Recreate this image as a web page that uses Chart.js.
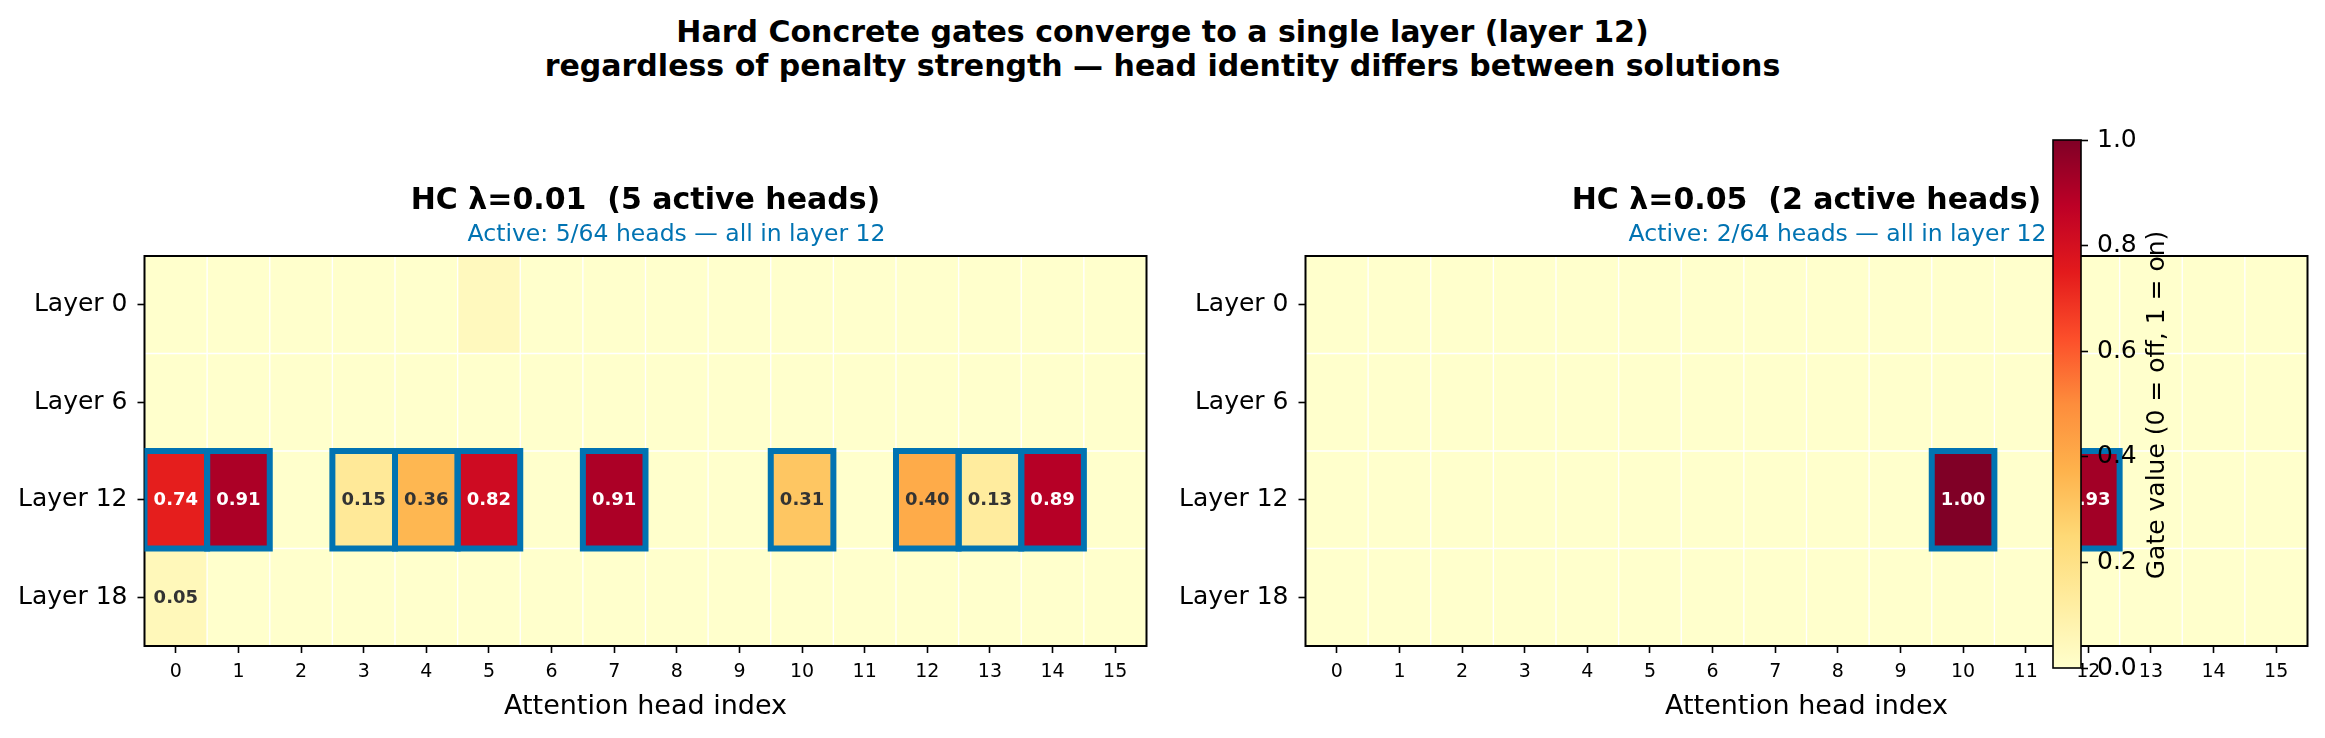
<!DOCTYPE html>
<html>
<head>
<meta charset="utf-8">
<script src="https://cdn.jsdelivr.net/npm/chart.js@4.4.1/dist/chart.umd.min.js"></script>
<style>
  body { margin: 0; background: #fff; width: 2325px; height: 738px; overflow: hidden; position: relative; }
  canvas { position: absolute; top: 0; }
  #suptitle { position: absolute; left: 0; top: 15px; width: 2325px; text-align: center; font: bold 30px/34px 'DejaVu Sans'; color: #000; }
</style>
</head>
<body>
<div id="suptitle">Hard Concrete gates converge to a single layer (layer 12)<br>regardless of penalty strength — head identity differs between solutions</div>
<canvas id="left" width="1165" height="738" style="left:0"></canvas>
<canvas id="right" width="1160" height="738" style="left:1165px"></canvas>
<canvas id="cbar" width="295" height="620" style="left:2030px; top:100px"></canvas>
<script>
// categories
const heads = ['0', '1', '2', '3', '4', '5', '6', '7', '8', '9', '10', '11', '12', '13', '14', '15'];
const layerLabels = ['Layer 0', 'Layer 6', 'Layer 12', 'Layer 18'];

// HC lambda=0.01 gate values, one array per layer
const lam001Layer0  = [0, 0, 0, 0, 0, 0.04, 0, 0, 0, 0, 0, 0, 0, 0, 0, 0];
const lam001Layer6  = [0, 0, 0, 0, 0, 0, 0, 0, 0, 0, 0, 0, 0, 0, 0, 0];
const lam001Layer12 = [0.74, 0.91, 0, 0.15, 0.36, 0.82, 0, 0.91, 0, 0, 0.31, 0, 0.40, 0.13, 0.89, 0];
const lam001Layer18 = [0.05, 0, 0, 0, 0, 0, 0, 0, 0, 0, 0, 0, 0, 0, 0, 0];

// HC lambda=0.05 gate values
const lam005Layer0  = [0, 0, 0, 0, 0, 0, 0, 0, 0, 0, 0, 0, 0, 0, 0, 0];
const lam005Layer6  = [0, 0, 0, 0, 0, 0, 0, 0, 0, 0, 0, 0, 0, 0, 0, 0];
const lam005Layer12 = [0, 0, 0, 0, 0, 0, 0, 0, 0, 0, 1.00, 0, 0.93, 0, 0, 0];
const lam005Layer18 = [0, 0, 0, 0, 0, 0, 0, 0, 0, 0, 0, 0, 0, 0, 0, 0];

// colorbar ticks
const cbarTicks = [0, 0.2, 0.4, 0.6, 0.8, 1.0];

// YlOrRd colormap
const ylOrRd = ['#ffffcc', '#ffeda0', '#fed976', '#feb24c', '#fd8d3c', '#fc4e2a', '#e31a1c', '#bd0026', '#800026'];
const BLUE = '#0173B2';

Chart.defaults.font.family = "'DejaVu Sans'";
Chart.defaults.color = '#000';

function hexRgb(h) {
    return [parseInt(h.slice(1, 3), 16), parseInt(h.slice(3, 5), 16), parseInt(h.slice(5, 7), 16)];
}

function gateColor(v) {
    const t = Math.max(0, Math.min(1, v)) * (ylOrRd.length - 1);
    const i = Math.min(Math.floor(t), ylOrRd.length - 2);
    const f = t - i;
    const a = hexRgb(ylOrRd[i]), b = hexRgb(ylOrRd[i + 1]);
    const c = a.map((x, k) => Math.round(x + (b[k] - x) * f));
    return `rgb(${c[0]},${c[1]},${c[2]})`;
}

// frame, active-head boxes, value labels and titles
const cellPlugin = {
    id: 'cells',
    afterDatasetsDraw(chart) {
        const { ctx, chartArea: a } = chart;
        ctx.save();
        ctx.strokeStyle = '#000';
        ctx.lineWidth = 2;
        ctx.strokeRect(a.left, a.top, a.right - a.left, a.bottom - a.top);

        ctx.beginPath();
        ctx.rect(a.left, a.top, a.right - a.left, a.bottom - a.top);
        ctx.clip();
        ctx.strokeStyle = BLUE;
        ctx.lineWidth = 6;
        chart.data.datasets.forEach((ds, r) => {
            const meta = chart.getDatasetMeta(r);
            ds.gate.forEach((v, i) => {
                if (v <= 0.1) return;
                const p = meta.data[i].getProps(['x', 'y', 'base', 'width'], true);
                ctx.strokeRect(p.x - p.width / 2, Math.min(p.y, p.base), p.width, Math.abs(p.base - p.y));
            });
        });
        ctx.restore();

        ctx.save();
        ctx.font = "bold 18px 'DejaVu Sans'";
        ctx.textAlign = 'center';
        ctx.textBaseline = 'middle';
        chart.data.datasets.forEach((ds, r) => {
            const meta = chart.getDatasetMeta(r);
            ds.gate.forEach((v, i) => {
                if (v < 0.05) return;
                const p = meta.data[i].getProps(['x', 'y', 'base'], true);
                ctx.fillStyle = v > 0.5 ? '#ffffff' : '#333333';
                ctx.fillText(v.toFixed(2), p.x, (p.y + p.base) / 2 + 1);
            });
        });
        ctx.restore();
    },
    afterDraw(chart, args, opts) {
        const { ctx, chartArea: a } = chart;
        const cx = (a.left + a.right) / 2;
        ctx.save();
        ctx.textAlign = 'center';
        ctx.textBaseline = 'alphabetic';
        ctx.fillStyle = '#000';
        ctx.font = "bold 30px 'DejaVu Sans'";
        ctx.fillText(opts.title, cx, 209);
        ctx.fillStyle = BLUE;
        ctx.font = "23.5px 'DejaVu Sans'";
        ctx.fillText(opts.subtitle, cx + 31, 241);
        ctx.restore();
    }
};

function heatmap(id, rows, title, subtitle, axisWidth, padRight) {
    return new Chart(document.getElementById(id), {
        type: 'bar',
        data: {
            labels: heads,
            datasets: rows.map((vals, r) => ({
                data: vals.map(() => [r - 0.5, r + 0.5]),
                gate: vals,
                backgroundColor: vals.map(gateColor),
                borderColor: '#ffffff',
                borderWidth: 1,
                borderSkipped: false,
                grouped: false,
                barPercentage: 1,
                categoryPercentage: 1
            }))
        },
        options: {
            responsive: false,
            animation: false,
            layout: { padding: { left: 0, right: padRight, top: 256, bottom: 0 } },
            plugins: {
                legend: { display: false },
                tooltip: { enabled: false },
                cells: { title: title, subtitle: subtitle }
            },
            scales: {
                x: {
                    type: 'category',
                    offset: true,
                    grid: { display: true, drawOnChartArea: false, offset: false, tickLength: 7, tickWidth: 1.6, tickColor: '#000' },
                    border: { display: false },
                    ticks: { font: { size: 19 }, color: '#000', padding: 8, maxRotation: 0, autoSkip: false },
                    title: { display: true, text: 'Attention head index', font: { size: 27 }, color: '#000', padding: { top: 0, bottom: 15 } },
                    afterFit: s => { s.height = 92; }
                },
                y: {
                    type: 'linear',
                    reverse: true,
                    min: -0.5,
                    max: 3.5,
                    afterBuildTicks: s => { s.ticks = layerLabels.map((_, i) => ({ value: i })); },
                    grid: { display: true, drawOnChartArea: false, tickLength: 7, tickWidth: 1.6, tickColor: '#000' },
                    border: { display: false },
                    ticks: { font: { size: 25 }, color: '#000', padding: 10, callback: v => layerLabels[v] },
                    afterFit: s => { s.width = axisWidth; }
                }
            }
        },
        plugins: [cellPlugin]
    });
}

heatmap('left', [lam001Layer0, lam001Layer6, lam001Layer12, lam001Layer18],
    'HC λ=0.01  (5 active heads)', 'Active: 5/64 heads — all in layer 12', 144.5, 18.5);
heatmap('right', [lam005Layer0, lam005Layer6, lam005Layer12, lam005Layer18],
    'HC λ=0.05  (2 active heads)', 'Active: 2/64 heads — all in layer 12', 140.5, 17.5);

// colorbar
const cbarPlugin = {
    id: 'cbarFrame',
    afterDraw(chart) {
        const { ctx, chartArea: a } = chart;
        ctx.save();
        ctx.strokeStyle = '#000';
        ctx.lineWidth = 1.6;
        ctx.strokeRect(a.left, a.top, a.right - a.left, a.bottom - a.top);
        ctx.translate(127, 305);
        ctx.rotate(-Math.PI / 2);
        ctx.font = "25px 'DejaVu Sans'";
        ctx.fillStyle = '#000';
        ctx.textAlign = 'center';
        ctx.textBaseline = 'middle';
        ctx.fillText('Gate value (0 = off, 1 = on)', 0, 0);
        ctx.restore();
    }
};

new Chart(document.getElementById('cbar'), {
    type: 'bar',
    data: {
        labels: ['gate'],
        datasets: [{
            data: [[cbarTicks[0], cbarTicks[cbarTicks.length - 1]]],
            backgroundColor: c => {
                const a = c.chart.chartArea;
                if (!a) return ylOrRd[0];
                const g = c.chart.ctx.createLinearGradient(0, a.bottom, 0, a.top);
                ylOrRd.forEach((col, i) => g.addColorStop(i / (ylOrRd.length - 1), col));
                return g;
            },
            borderWidth: 0,
            barPercentage: 1,
            categoryPercentage: 1
        }]
    },
    options: {
        responsive: false,
        animation: false,
        layout: { padding: { left: 23, right: 0, top: 40, bottom: 52 } },
        plugins: { legend: { display: false }, tooltip: { enabled: false } },
        scales: {
            x: { display: false },
            y: {
                position: 'right',
                min: 0,
                max: 1,
                afterBuildTicks: s => { s.ticks = cbarTicks.map(v => ({ value: v })); },
                grid: { display: true, drawOnChartArea: false, tickLength: 7, tickWidth: 1.6, tickColor: '#000' },
                border: { display: false },
                ticks: { font: { size: 25 }, color: '#000', padding: 9, callback: v => v.toFixed(1) },
                afterFit: s => { s.width = 244; }
            }
        }
    },
    plugins: [cbarPlugin]
});
</script>
</body>
</html>
